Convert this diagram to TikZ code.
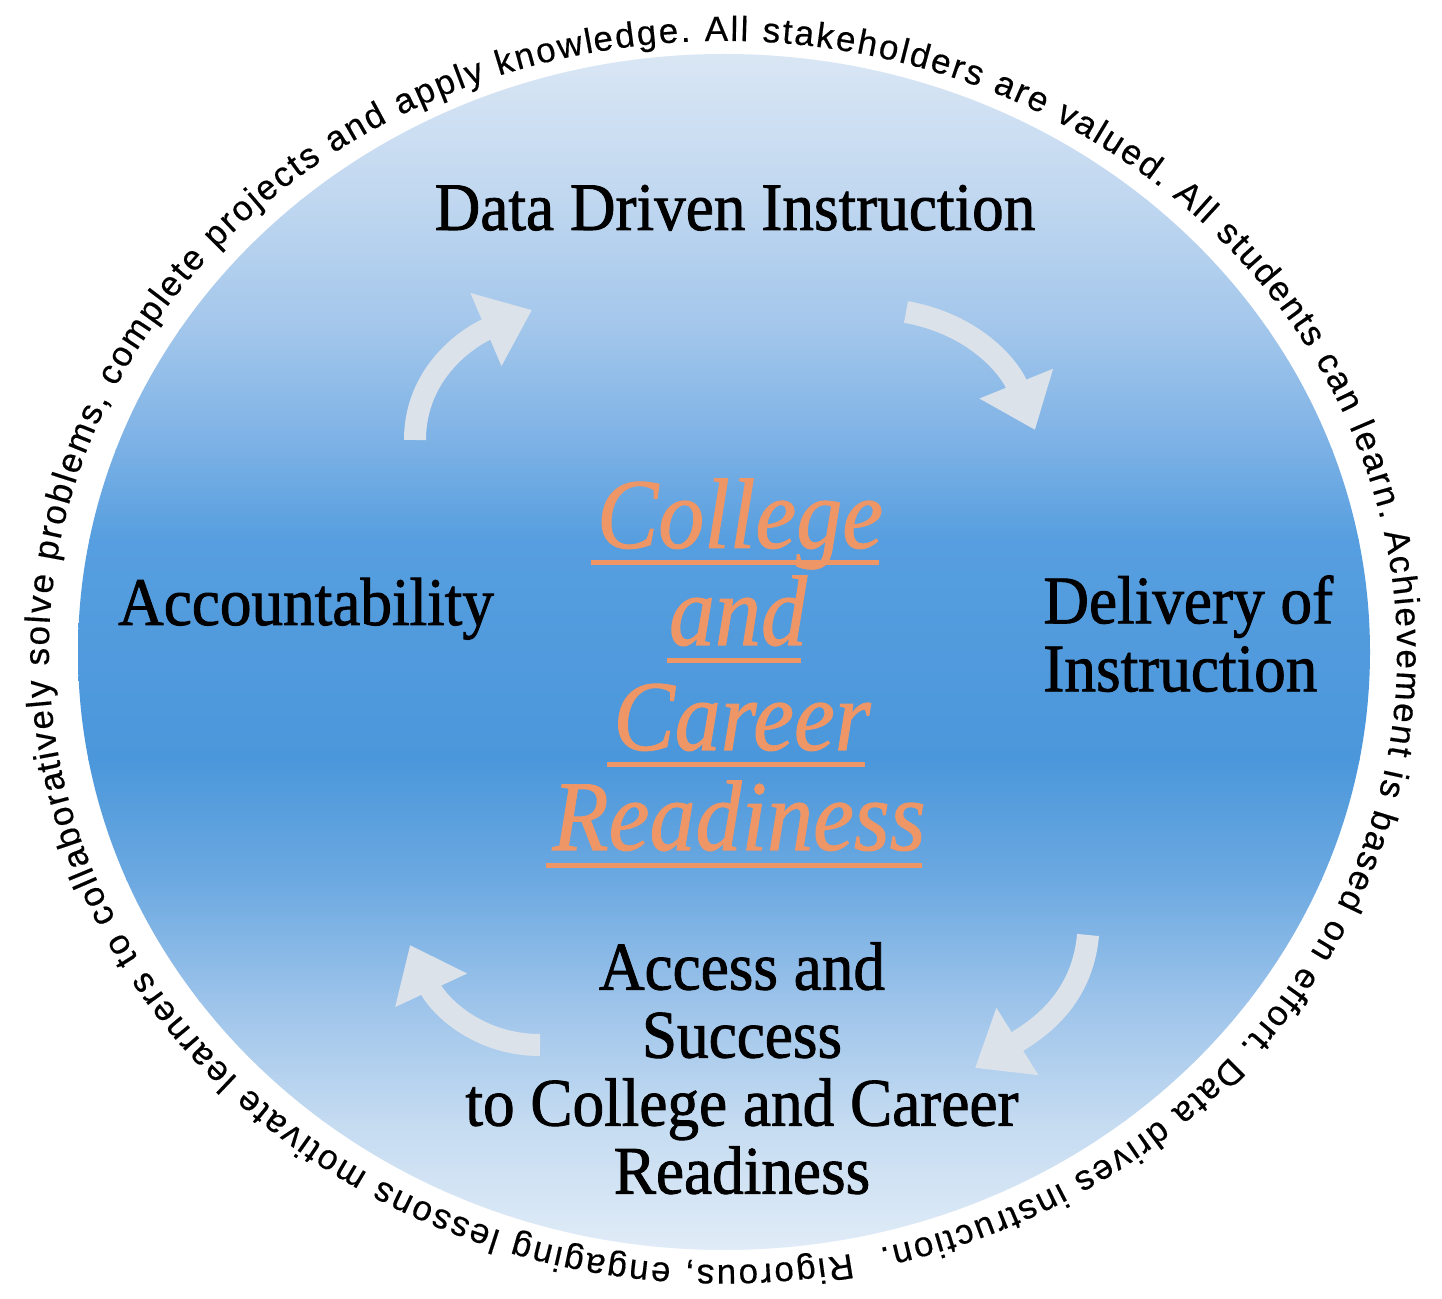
\documentclass[tikz,border=0pt]{standalone}
\usepackage{fontspec}
\setmainfont{Liberation Serif}
\newfontfamily\lblserif[FakeBold=1.3]{Liberation Serif}
\newfontfamily\ctrserif[FakeBold=1.0]{Liberation Serif}
\newfontfamily\arialf[FakeBold=0.4]{Liberation Sans}
\usetikzlibrary{decorations.text,arrows.meta,calc}

\definecolor{g0}{RGB}{220,232,245}
\definecolor{g1}{RGB}{192,215,240}
\definecolor{g2}{RGB}{162,198,235}
\definecolor{g3}{RGB}{122,176,229}
\definecolor{g4}{RGB}{86,158,223}
\definecolor{g5}{RGB}{75,151,219}
\definecolor{g6}{RGB}{108,169,225}
\definecolor{g7}{RGB}{156,195,234}
\definecolor{g8}{RGB}{196,219,241}
\definecolor{g9}{RGB}{228,238,248}
\definecolor{arrowc}{RGB}{220,226,234}
\definecolor{orng}{RGB}{238,150,102}

\newcommand{\ringfont}{\arialf\fontsize{17.5}{17.5}\selectfont}

\begin{document}
\begin{tikzpicture}[x=0.5pt,y=0.5pt,
  lbl/.style={font=\lblserif\fontsize{34}{34}\selectfont, text=black, inner sep=0pt, xscale=0.93},
  ctr/.style={font=\ctrserif\fontsize{50}{50}\selectfont\itshape, text=orng, inner sep=0pt, xscale=0.92},
  uline/.style={draw=orng, line width=2.5pt},
  cyc/.style={draw=arrowc, line width=11pt, -{Triangle[length=25pt,width=38pt]}},
]
\useasboundingbox (0,0) rectangle (1442,1298);
\fill[white] (0,0) rectangle (1442,1298);

% shaded disc
\begin{scope}
\clip (724,646) ellipse [x radius=646, y radius=598];
\shade[top color=g0, bottom color=g1] (0,1260) rectangle (1442,1097);
\shade[top color=g1, bottom color=g2] (0,1098) rectangle (1442,967);
\shade[top color=g2, bottom color=g3] (0,968) rectangle (1442,847);
\shade[top color=g3, bottom color=g4] (0,848) rectangle (1442,757);
\shade[top color=g4, bottom color=g5] (0,758) rectangle (1442,537);
\shade[top color=g5, bottom color=g6] (0,538) rectangle (1442,417);
\shade[top color=g6, bottom color=g7] (0,418) rectangle (1442,297);
\shade[top color=g7, bottom color=g8] (0,298) rectangle (1442,177);
\shade[top color=g8, bottom color=g9] (0,178) rectangle (1442,30);
\end{scope}

% ring text
\path[decorate, decoration={text along path, text align=fit to path,
  text={|\ringfont|Rigorous, engaging lessons motivate learners to collaboratively solve problems, complete projects and apply knowledge. All stakeholders are valued. All students can learn. Achievement is based on effort. Data drives instruction.}}]
  ($(723,645)+(-79:674 and 612)$) arc[start angle=-79, end angle=-436.5, x radius=674, y radius=612];

% cycle arrows
\coordinate (a1s) at (415,858);  \coordinate (a1e) at (532,988);
\coordinate (a2s) at (906,986);  \coordinate (a2e) at (1035,868);
\coordinate (a3s) at (1088,363); \coordinate (a3e) at (975,230);
\coordinate (a4s) at (540,253);  \coordinate (a4e) at (410,353);
\draw[cyc] (a1s) to[out=90,in=203] (a1e);
\draw[cyc] (a2s) to[out=-10,in=112] (a2e);
\draw[cyc] (a3s) to[out=-95,in=32] (a3e);
\draw[cyc] (a4s) to[out=180,in=-65] (a4e);

% labels
\node[lbl, anchor=base] (ddi) at (735,1068) {Data Driven Instruction};
\node[lbl, anchor=base] (acc) at (306,673) {Accountability};
\node[lbl, anchor=north west, align=left] (del) at (1043,723) {Delivery of\\Instruction};
\node[lbl, anchor=north, align=center] (acs) at (742,356) {Access and\\Success\\to College and Career\\Readiness};

% centre words
\node[ctr, anchor=base] (w1) at (740,750) {College};
\node[ctr, anchor=base] (w2) at (738,653) {and};
\node[ctr, anchor=base] (w3) at (742,548) {Career};
\node[ctr, anchor=base] (w4) at (739,448) {Readiness};
\draw[uline] ($(w1.base west)+(-6,-15)$) -- ($(w1.base east)+(-4,-15)$);
\draw[uline] ($(w2.base west)+(-2,-16)$) -- ($(w2.base east)+(-6,-16)$);
\draw[uline] ($(w3.base west)+(-6,-15)$) -- ($(w3.base east)+(-6,-15)$);
\draw[uline] ($(w4.base west)+(-6,-16)$) -- ($(w4.base east)+(-4,-16)$);
\end{tikzpicture}
\end{document}
